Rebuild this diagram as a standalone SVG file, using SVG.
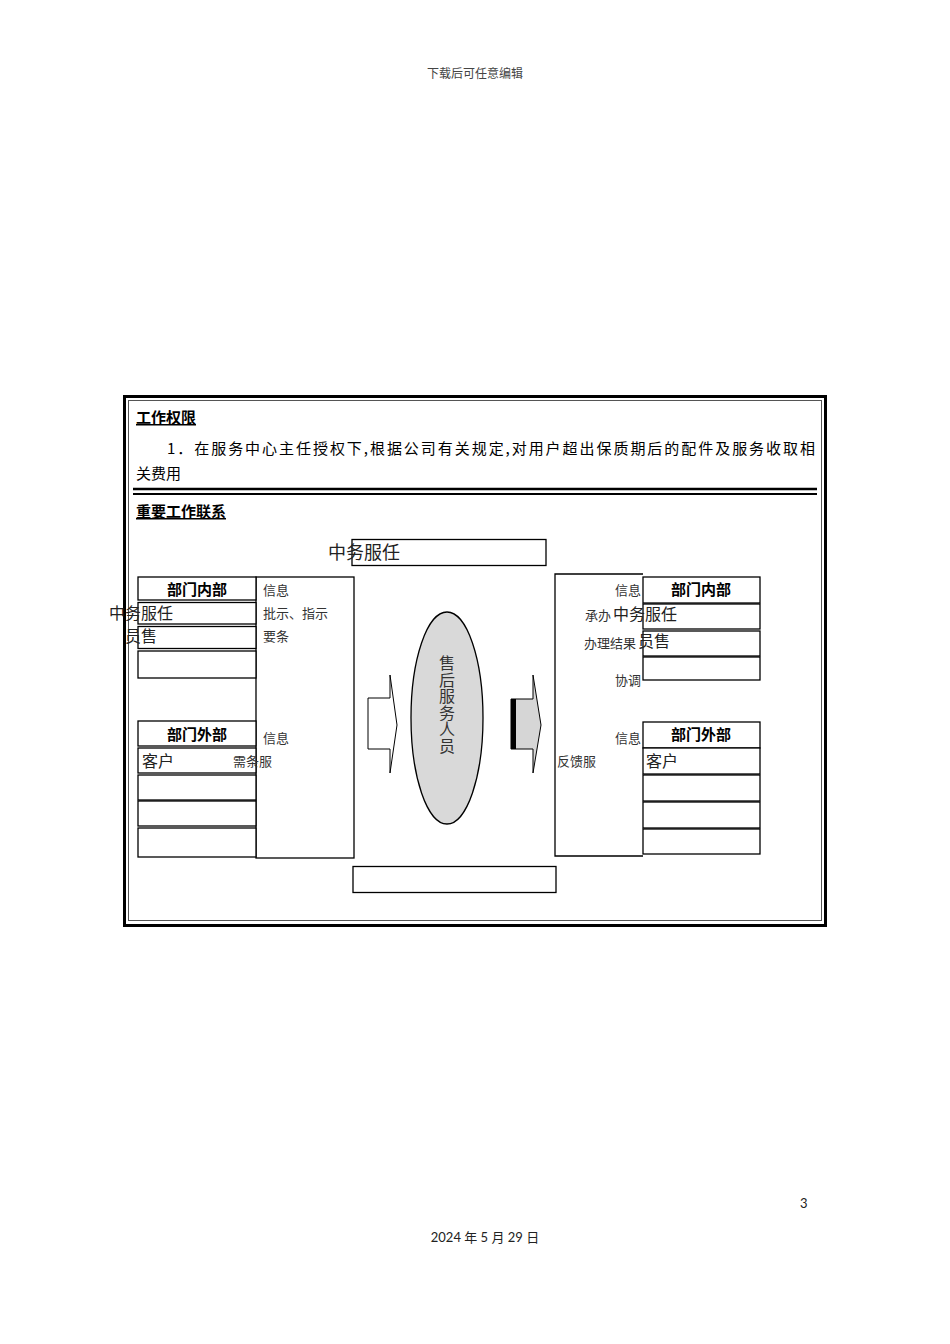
<svg xmlns="http://www.w3.org/2000/svg" width="950" height="1344" viewBox="0 0 950 1344">
<style>
.sans{font-family:"Noto Sans CJK SC","Liberation Sans",sans-serif;}
.hd{font-family:"Noto Sans CJK SC",sans-serif;font-size:15px;font-weight:bold;fill:#000;}
.body{font-family:"Noto Sans CJK SC",sans-serif;font-size:15px;fill:#000;}
.lbl{font-family:"Noto Sans CJK SC",sans-serif;font-size:13px;fill:#333;}
.big{font-family:"Noto Sans CJK SC",sans-serif;font-size:16px;fill:#222;}
.box{fill:#fff;stroke:#000;stroke-width:1.3;}
.dept{font-family:"Noto Sans CJK SC",sans-serif;font-size:15px;font-weight:bold;fill:#000;text-anchor:middle;}
</style>
<rect width="950" height="1344" fill="#fff"/>
<text x="475" y="78" text-anchor="middle" class="sans" font-size="12" fill="#444">下载后可任意编辑</text>

<g id="frame">
<rect x="124.5" y="396.5" width="701" height="529" fill="none" stroke="#000" stroke-width="3"/>
<rect x="128.5" y="400.5" width="693" height="520" fill="none" stroke="#555" stroke-width="1"/>
<line x1="133" y1="489" x2="817" y2="489" stroke="#000" stroke-width="2.5"/>
<line x1="133" y1="494" x2="817" y2="494" stroke="#000" stroke-width="2"/>
</g>

<g id="text-block">
<text x="136" y="423" class="hd" text-decoration="underline">工作权限</text>
<text x="167" y="454" class="body" textLength="648" lengthAdjust="spacing">1．在服务中心主任授权下,根据公司有关规定,对用户超出保质期后的配件及服务收取相</text>
<text x="136" y="479" class="body">关费用</text>
<text x="136" y="517" class="hd" text-decoration="underline">重要工作联系</text>
</g>

<g id="top-box">
<rect x="352" y="539.5" width="194" height="26" class="box"/>
<text x="328" y="559" class="sans" font-size="18" fill="#222">中务服任</text>
</g>

<g id="left-panel">
<rect x="256" y="577" width="98" height="281" class="box"/>
</g>

<g id="left-internal">
<rect x="138" y="577" width="118" height="23" class="box"/>
<text x="197" y="595" class="dept">部门内部</text>
<rect x="138" y="602.5" width="118" height="21.5" class="box"/>
<rect x="138" y="626.5" width="118" height="22" class="box"/>
<rect x="138" y="651" width="118" height="27" class="box"/>
<text x="109" y="619" class="big">中务服任</text>
<text x="125" y="642" class="big">员售</text>
</g>

<g id="left-external">
<rect x="138" y="721" width="118" height="25" class="box"/>
<text x="197" y="740" class="dept">部门外部</text>
<rect x="138" y="748" width="118" height="25" class="box"/>
<rect x="138" y="775" width="118" height="25" class="box"/>
<rect x="138" y="801" width="118" height="25" class="box"/>
<rect x="138" y="828" width="118" height="29" class="box"/>
<text x="142" y="767" class="big">客户</text>
</g>

<g id="left-labels">
<text x="263" y="595" class="lbl">信息</text>
<text x="263" y="618" class="lbl">批示、指示</text>
<text x="263" y="641" class="lbl">要条</text>
<text x="263" y="743" class="lbl">信息</text>
<text x="233" y="766" class="lbl">需条服</text>
</g>

<g id="connectors">
<path d="M368,698 H390 V675 L397,725 L390,773 V749 H368 Z" fill="#fff" stroke="#000" stroke-width="1"/>
<path d="M511,699 H533 V675 L541,725 L533,773 V749 H511 Z" fill="#d6d6d6" stroke="#000" stroke-width="1"/>
<rect x="511" y="699" width="5" height="50" fill="#000"/>
</g>

<g id="center">
<ellipse cx="447" cy="718" rx="36" ry="106" fill="#d9d9d9" stroke="#000" stroke-width="1.3"/>
<text x="447" y="655" class="sans" font-size="16" fill="#333" writing-mode="vertical-rl" letter-spacing="0.5">售后服务人员</text>
</g>

<g id="bottom-box">
<rect x="353" y="866.5" width="203" height="26" class="box"/>
</g>

<g id="right-panel">
<path d="M643,574 H555 V856 H643" fill="#fff" stroke="#000" stroke-width="1.3"/>
</g>

<g id="right-internal">
<rect x="643" y="577" width="117" height="26" class="box"/>
<text x="701" y="595" class="dept">部门内部</text>
<rect x="643" y="604" width="117" height="25" class="box"/>
<rect x="643" y="631" width="117" height="25" class="box"/>
<rect x="643" y="657" width="117" height="23" class="box"/>
</g>

<g id="right-external">
<rect x="643" y="722" width="117" height="26" class="box"/>
<text x="701" y="740" class="dept">部门外部</text>
<rect x="643" y="748" width="117" height="26" class="box"/>
<rect x="643" y="775" width="117" height="26" class="box"/>
<rect x="643" y="802" width="117" height="26" class="box"/>
<rect x="643" y="829" width="117" height="25" class="box"/>
<text x="646" y="767" class="big">客户</text>
</g>

<g id="right-labels">
<text x="641" y="595" class="lbl" text-anchor="end">信息</text>
<text x="585" y="620" class="lbl">承办</text>
<text x="613" y="620" class="big">中务服任</text>
<text x="584" y="648" class="lbl">办理结果</text>
<text x="638" y="647" class="big">员售</text>
<text x="641" y="685" class="lbl" text-anchor="end">协调</text>
<text x="641" y="743" class="lbl" text-anchor="end">信息</text>
<text x="557" y="766" class="lbl">反馈服</text>
</g>

<g id="footer">
<text x="800" y="1208" font-family="Lato,'Noto Sans CJK SC',sans-serif" font-size="13" fill="#222">3</text>
<text x="485" y="1242" text-anchor="middle" font-family="Lato,'Noto Sans CJK SC',sans-serif" font-size="13" fill="#222">2024 年 5 月 29 日</text>
</g>
</svg>
